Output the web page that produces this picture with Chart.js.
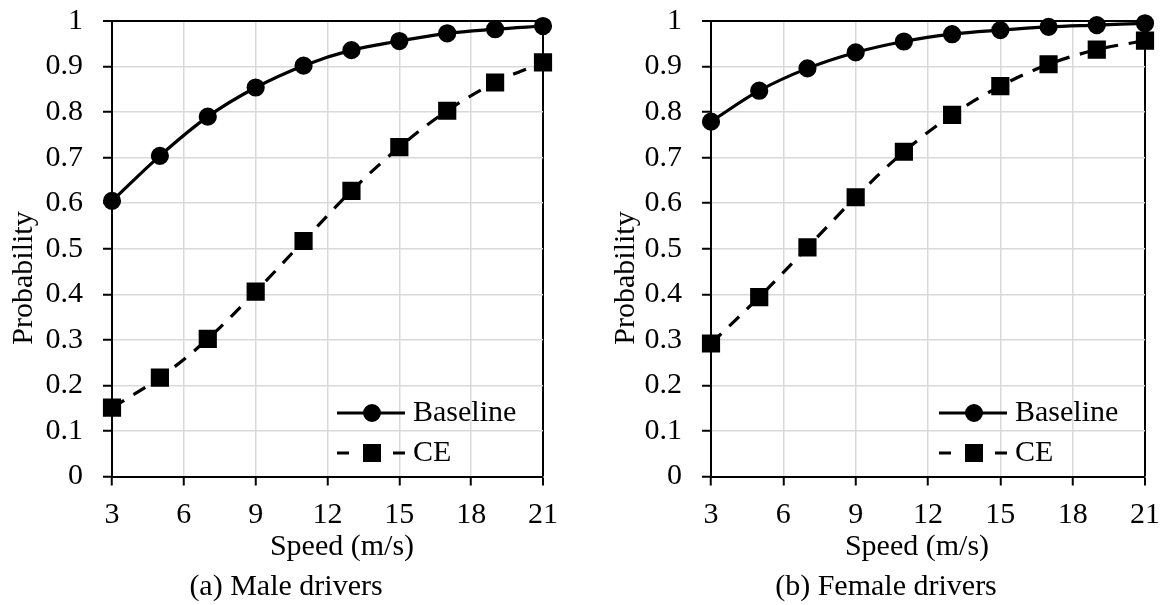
<!DOCTYPE html>
<html>
<head>
<meta charset="utf-8">
<script src="https://cdn.jsdelivr.net/npm/chart.js@4.4.0/dist/chart.umd.min.js"></script>
<style>
html,body{margin:0;padding:0;background:#fff;}
#wrap{position:relative;width:1164px;height:605px;overflow:hidden;}
.box{position:absolute;top:0;width:582px;height:605px;}
</style>
</head>
<body>
<div id="wrap">
  <div class="box" style="left:0"><canvas id="male" width="582" height="605"></canvas></div>
  <div class="box" style="left:582px"><canvas id="female" width="582" height="605"></canvas></div>
</div>
<script>
// data
const speeds = [3, 5, 7, 9, 11, 13, 15, 17, 19, 21];
const xTicks = [3, 6, 9, 12, 15, 18, 21];
const seriesNames = ['Baseline', 'CE'];
const maleBaseline = [0.605, 0.704, 0.790, 0.854, 0.902, 0.936, 0.956, 0.973, 0.982, 0.989];
const maleCE = [0.151, 0.217, 0.302, 0.406, 0.517, 0.627, 0.723, 0.803, 0.865, 0.909];
const femaleBaseline = [0.779, 0.847, 0.896, 0.931, 0.955, 0.971, 0.980, 0.987, 0.991, 0.995];
const femaleCE = [0.292, 0.394, 0.503, 0.613, 0.713, 0.794, 0.857, 0.905, 0.937, 0.957];

const FONT = 'Liberation Serif, "Times New Roman", serif';
const pts = vals => vals.map((v, i) => ({x: speeds[i], y: v}));
const noPad = s => { s.paddingLeft = 0; s.paddingRight = 0; s.paddingTop = 0; s.paddingBottom = 0; };

// axis titles, caption and the line+marker legend
const decor = {
  id: 'decor',
  afterDraw(chart, args, o) {
    const ctx = chart.ctx, area = chart.chartArea;
    ctx.save();
    ctx.fillStyle = '#000';
    ctx.font = '30px ' + FONT;
    ctx.textAlign = 'center';
    ctx.textBaseline = 'middle';
    ctx.fillText(o.xTitle, o.xTitleX, 547);
    ctx.fillText(o.caption, o.captionX, 587);
    ctx.save();
    ctx.translate(o.yTitleX, 278);
    ctx.rotate(-Math.PI / 2);
    ctx.fillText(o.yTitle, 0, 0);
    ctx.restore();

    const lx = area.right - 206;
    chart.data.datasets.forEach((ds, i) => {
      const y = [413, 453][i];
      ctx.strokeStyle = '#000';
      ctx.lineWidth = 3;
      ctx.setLineDash(ds.legendDash || []);
      ctx.beginPath();
      ctx.moveTo(lx, y);
      ctx.lineTo(lx + 68, y);
      ctx.stroke();
      ctx.setLineDash([]);
      ctx.fillStyle = '#000';
      Chart.helpers.drawPoint(ctx, {pointStyle: ds.pointStyle, radius: ds.pointRadius, rotation: 0, borderWidth: 1}, lx + 35, y);
      ctx.textAlign = 'left';
      ctx.fillText(ds.label, lx + 76, y);
    });
    ctx.restore();
  }
};

function makeChart(id, base, ce, cfg) {
  return new Chart(document.getElementById(id), {
    type: 'line',
    data: {
      datasets: [
        {label: seriesNames[0], data: pts(base), borderColor: '#000', backgroundColor: '#000',
         borderWidth: 3.2, pointStyle: 'circle', pointRadius: 7.5, pointHoverRadius: 7.5,
         tension: 0.35, clip: false},
        {label: seriesNames[1], data: pts(ce), borderColor: '#000', backgroundColor: '#000',
         borderWidth: 3.2, borderDash: [14, 11], legendDash: [12, 16],
         pointStyle: 'rect', pointRadius: 10.6, pointHoverRadius: 10.6,
         tension: 0.35, clip: false}
      ]
    },
    options: {
      responsive: false,
      animation: false,
      devicePixelRatio: 1,
      layout: {padding: {left: 0, top: 21, right: cfg.rightPad, bottom: 0}},
      plugins: {
        legend: {display: false},
        tooltip: {enabled: false},
        decor: cfg.decor
      },
      scales: {
        x: {
          type: 'linear', min: 3, max: 21,
          afterBuildTicks: s => { s.ticks = xTicks.map(v => ({value: v})); },
          afterFit: s => { s.height = 128.5; noPad(s); },
          ticks: {color: '#000', font: {family: FONT, size: 30}, padding: 12, maxRotation: 0},
          grid: {
            color: c => c.tick && c.tick.value === 21 ? '#000' : '#d9d9d9',
            lineWidth: c => c.tick && c.tick.value === 21 ? 2 : 1.5,
            tickColor: '#000', tickWidth: 2, tickLength: 9
          },
          border: {color: '#000', width: 2}
        },
        y: {
          min: 0, max: 1,
          afterFit: s => { s.width = cfg.plotLeft; noPad(s); },
          ticks: {stepSize: 0.1, color: '#000', font: {family: FONT, size: 30}, padding: 20,
                  callback: v => String(+v.toFixed(1))},
          grid: {
            color: c => c.tick && Math.abs(c.tick.value - 1) < 1e-9 ? '#000' : '#d9d9d9',
            lineWidth: c => c.tick && Math.abs(c.tick.value - 1) < 1e-9 ? 2 : 1.5,
            tickColor: '#000', tickWidth: 2, tickLength: 9
          },
          border: {color: '#000', width: 2}
        }
      }
    },
    plugins: [decor]
  });
}

makeChart('male', maleBaseline, maleCE, {
  plotLeft: 112, rightPad: 39,
  decor: {xTitle: 'Speed (m/s)', xTitleX: 342, caption: '(a) Male drivers', captionX: 286,
          yTitle: 'Probability', yTitleX: 24}
});
makeChart('female', femaleBaseline, femaleCE, {
  plotLeft: 129, rightPad: 19,
  decor: {xTitle: 'Speed (m/s)', xTitleX: 335, caption: '(b) Female drivers', captionX: 304,
          yTitle: 'Probability', yTitleX: 44}
});
</script>
</body>
</html>
